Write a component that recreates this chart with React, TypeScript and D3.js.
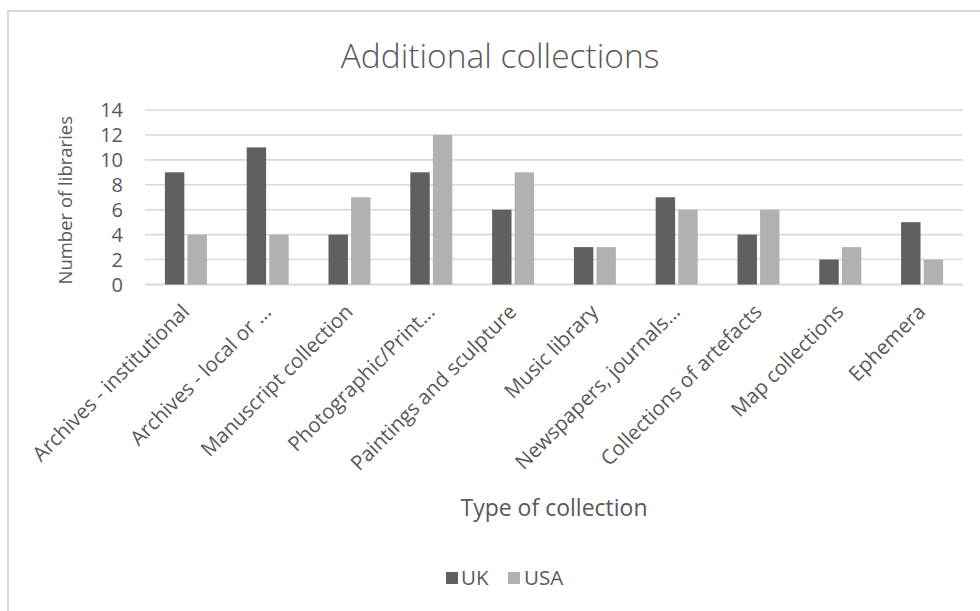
import React from "react";
import * as d3 from "d3";

const categories = [
  "Archives - institutional",
  "Archives - local or ...",
  "Manuscript collection",
  "Photographic/Print...",
  "Paintings and sculpture",
  "Music library",
  "Newspapers, journals...",
  "Collections of artefacts",
  "Map collections",
  "Ephemera",
];
const ukValues = [9, 11, 4, 9, 6, 3, 7, 4, 2, 5];
const usaValues = [4, 4, 7, 12, 9, 3, 6, 6, 3, 2];
const seriesNames = ["UK", "USA"];
const seriesColors = ["#606060", "#b1b1b1"];
const yTicks = [0, 2, 4, 6, 8, 10, 12, 14];

const W = 980;
const H = 611;
const plotLeft = 145;
const plotRight = 963;
const plotTop = 110;
const plotBottom = 284.5;
const FONT = "'Open Sans', 'DejaVu Sans', sans-serif";
const TEXT = "#595959";

export default function App() {
  const x0 = d3.scaleBand<string>().domain(categories).range([plotLeft, plotRight]);
  const x1 = d3
    .scaleBand<string>()
    .domain(seriesNames)
    .range([0, 42])
    .paddingInner(0.14);
  const y = d3.scaleLinear().domain([0, 14]).range([plotBottom, plotTop]);
  const series = [ukValues, usaValues];
  const groupOffset = (x0.bandwidth() - 42) / 2;

  return (
    <svg
      width={W}
      height={H}
      style={{ position: "absolute", left: 0, top: 0, background: "#fff" }}
    >
      <rect x={8} y={11} width={W + 10} height={H + 10} fill="#fff" stroke="#d9d9d9" strokeWidth={2} />
      <text
        x={500}
        y={68}
        textAnchor="middle"
        fontFamily={FONT}
        fontSize={33.5}
        fontWeight={300}
        fill={TEXT}
      >
        Additional collections
      </text>
      {yTicks.map((t) => (
        <g key={t}>
          <line
            x1={plotLeft}
            x2={plotRight}
            y1={y(t)}
            y2={y(t)}
            stroke="#d9d9d9"
            strokeWidth={t === 0 ? 2 : 1.6}
          />
          <text
            x={123}
            y={y(t)}
            dy="0.35em"
            textAnchor="end"
            fontFamily={FONT}
            fontSize={20}
            fill={TEXT}
          >
            {t}
          </text>
        </g>
      ))}
      {categories.map((c, i) => (
        <g key={c} transform={`translate(${(x0(c) ?? 0) + groupOffset},0)`}>
          {series.map((vals, s) => (
            <rect
              key={s}
              x={x1(seriesNames[s])}
              y={y(vals[i])}
              width={x1.bandwidth()}
              height={y(0) - y(vals[i])}
              fill={seriesColors[s]}
            />
          ))}
        </g>
      ))}
      {categories.map((c) => {
        const cx = (x0(c) ?? 0) + x0.bandwidth() / 2 - 5.5;
        return (
          <text
            key={c}
            transform={`translate(${cx},${303}) rotate(-45)`}
            textAnchor="end"
            dy="0.7em"
            fontFamily={FONT}
            fontSize={20.5}
            fill={TEXT}
          >
            {c}
          </text>
        );
      })}
      <text
        transform={`translate(66,${(plotTop + plotBottom) / 2 + 3}) rotate(-90)`}
        textAnchor="middle"
        dy="0.35em"
        fontFamily={FONT}
        fontSize={18.5}
        fill={TEXT}
      >
        Number of libraries
      </text>
      <text
        x={554}
        y={508}
        dy="0.35em"
        textAnchor="middle"
        fontFamily={FONT}
        fontSize={23}
        fill={TEXT}
      >
        Type of collection
      </text>
      <g fontFamily={FONT} fontSize={20.5} fill={TEXT}>
        <rect x={446} y={572} width={12} height={12} fill={seriesColors[0]} />
        <text x={461} y={578} dy="0.35em">UK</text>
        <rect x={508} y={572} width={12} height={12} fill={seriesColors[1]} />
        <text x={524} y={578} dy="0.35em">USA</text>
      </g>
    </svg>
  );
}
